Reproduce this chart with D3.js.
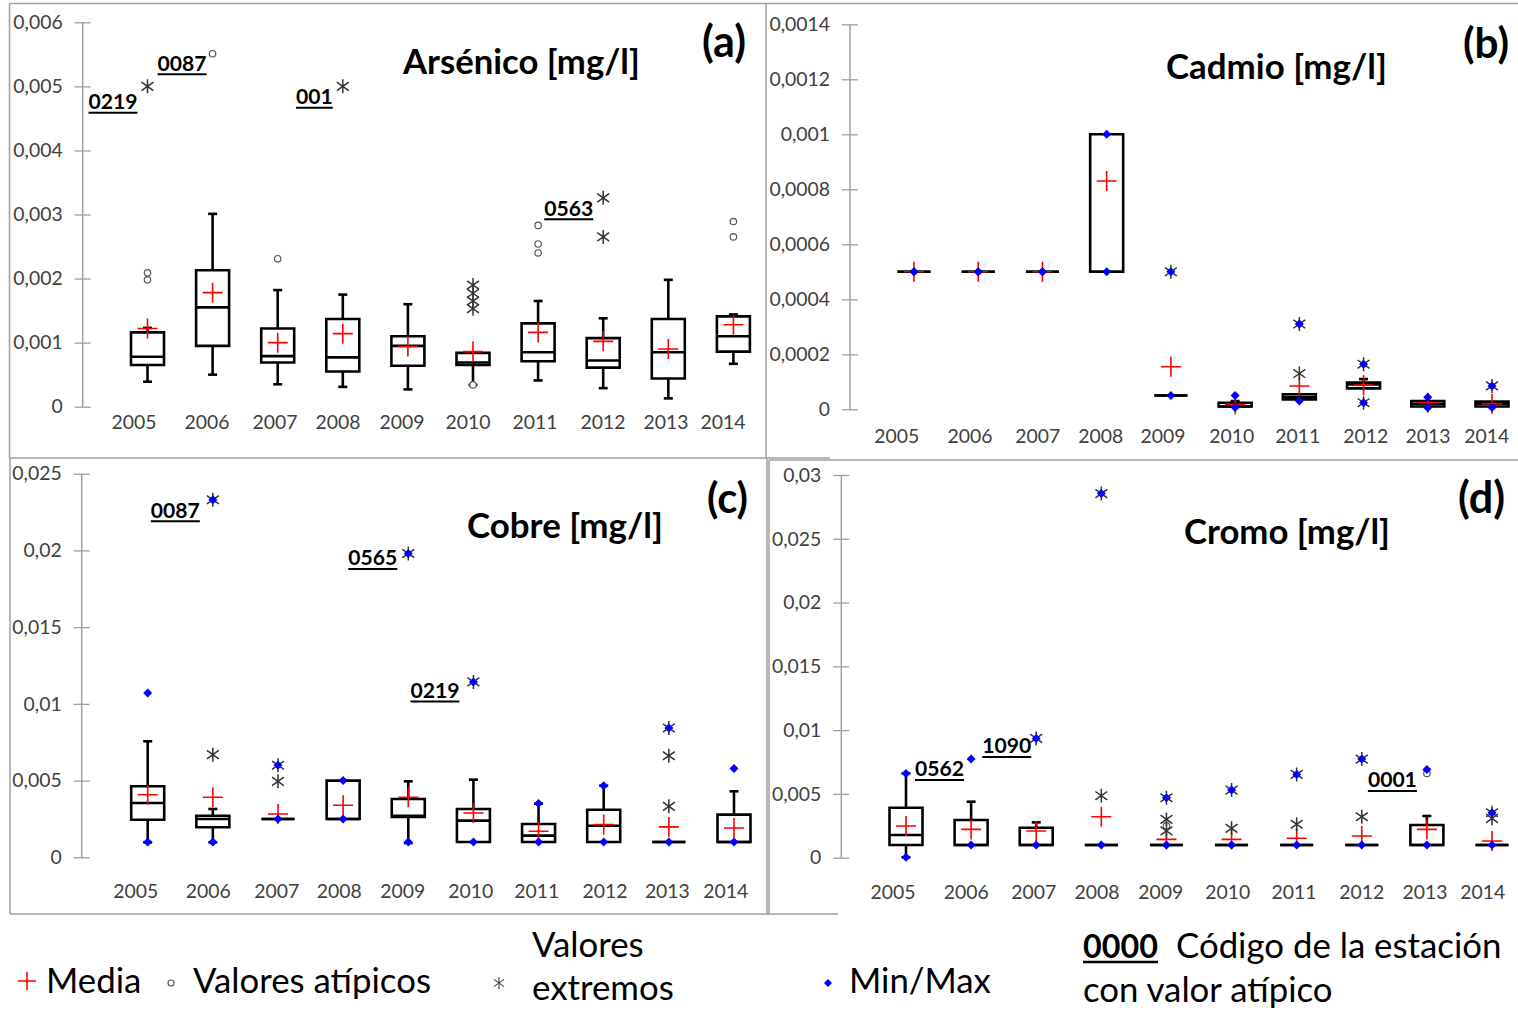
<!DOCTYPE html>
<html><head><meta charset="utf-8">
<script src="https://cdn.jsdelivr.net/npm/d3@7"></script>
<style>body{margin:0;background:#fff} svg{display:block}</style>
</head><body>
<svg id="c" width="1518" height="1010"></svg>
<script>
// ---------------- DATA ----------------
const years = ["2005","2006","2007","2008","2009","2010","2011","2012","2013","2014"];

// (a) Arsénico
const asTicks = [0,0.001,0.002,0.003,0.004,0.005,0.006];
const asLow  = [0.00039,0.00050,0.00035,0.00031,0.00027,0.00034,0.00041,0.00029,0.00013,0.00067];
const asQ1   = [0.00065,0.00095,0.00069,0.00055,0.00064,0.00065,0.00071,0.00061,0.00044,0.00086];
const asMed  = [0.00078,0.00155,0.00079,0.00077,0.00095,0.00069,0.00085,0.00072,0.00085,0.00110];
const asQ3   = [0.00116,0.00213,0.00122,0.00137,0.00110,0.00084,0.00130,0.00107,0.00137,0.00141];
const asHigh = [0.00123,0.00301,0.00182,0.00175,0.00160,0.00084,0.00165,0.00138,0.00198,0.00144];
const asMean = [0.00122,0.00178,0.00100,0.00114,0.00094,0.00086,0.00116,0.00102,0.00090,0.00128];
const asOut  = [[0.00198,0.00209],[0.00551],[0.00231],[],[],[0.00034],[0.00283,0.00254,0.00240],[],[],[0.00289,0.00265]];
const asExt  = [[0.005],[],[],[0.005],[],[0.00190,0.00177,0.00165,0.00153],[],[0.00326,0.00265],[],[]];
const asMin  = [];
const asMax  = [];
const asCodes = ["0219","0087","001","0563"];
const asCodeYear = ["2005","2006","2008","2012"];
const asCodeVal = [0.005,0.00551,0.005,0.00326];

// (b) Cadmio
const cdTicks = [0,0.0002,0.0004,0.0006,0.0008,0.001,0.0012,0.0014];
const cdLow  = [0.0005,0.0005,0.0005,0.0005,0.00005,0.00001,0.000036,0.000076,0.00001,0.00001];
const cdQ1   = [0.0005,0.0005,0.0005,0.0005,0.00005,0.00001,0.000036,0.000076,0.00001,0.00001];
const cdMed  = [0.0005,0.0005,0.0005,0.0005,0.00005,0.00001,0.000045,0.00009,0.00002,0.00002];
const cdQ3   = [0.0005,0.0005,0.0005,0.001,0.00005,0.000024,0.000055,0.000097,0.00003,0.000028];
const cdHigh = [0.0005,0.0005,0.0005,0.001,0.00005,0.00003,0.000055,0.00011,0.00003,0.000028];
const cdMean = [0.0005,0.0005,0.0005,0.00083,0.000155,0.000018,0.000085,0.000088,0.000024,0.00002];
const cdOut  = [[],[],[],[],[],[],[],[],[],[]];
const cdExt  = [[],[],[],[],[0.0005],[],[0.00013,0.00031],[0.000164,0.000024],[],[0.000085]];
const cdMin  = [0.0005,0.0005,0.0005,0.0005,0.00005,0.000007,0.00003,0.000024,0.000006,0.000007];
const cdMax  = [0.0005,0.0005,0.0005,0.001,0.0005,0.00005,0.00031,0.000164,0.000044,0.000085];
const cdCodes = [];
const cdCodeYear = [];
const cdCodeVal = [];

// (c) Cobre
const cuTicks = [0,0.005,0.01,0.015,0.02,0.025];
const cuLow  = [0.00098,0.00098,0.0025,0.0025,0.00093,0.001,0.001,0.001,0.001,0.001];
const cuQ1   = [0.00245,0.00196,0.0025,0.0025,0.00263,0.001,0.001,0.001,0.001,0.001];
const cuMed  = [0.00354,0.0025,0.0025,0.0025,0.00271,0.00239,0.00141,0.00206,0.001,0.001];
const cuQ3   = [0.00463,0.00271,0.0025,0.005,0.0038,0.00315,0.00217,0.0031,0.001,0.00278];
const cuHigh = [0.00756,0.00315,0.0025,0.005,0.00495,0.00506,0.0035,0.00467,0.001,0.0043];
const cuMean = [0.00408,0.00391,0.00282,0.00339,0.00391,0.00289,0.0017,0.00213,0.00198,0.00191];
const cuOut  = [[],[],[],[],[],[],[],[],[],[]];
const cuExt  = [[],[0.00669,0.0233],[0.00495,0.006],[],[0.0198],[0.01143],[],[],[0.00332,0.00662,0.00843],[]];
const cuMin  = [0.001,0.001,0.0025,0.0025,0.001,0.001,0.001,0.001,0.001,0.001];
const cuMax  = [0.0107,0.0233,0.006,0.005,0.0198,0.01143,0.0035,0.00467,0.00843,0.00578];
const cuCodes = ["0087","0565","0219"];
const cuCodeYear = ["2006","2009","2010"];
const cuCodeVal = [0.0233,0.0198,0.01143];

// (d) Cromo
const crTicks = [0,0.005,0.01,0.015,0.02,0.025,0.03];
const crLow  = [0.00003,0.001,0.001,0.001,0.001,0.001,0.001,0.001,0.001,0.001];
const crQ1   = [0.001,0.001,0.001,0.001,0.001,0.001,0.001,0.001,0.001,0.001];
const crMed  = [0.00178,0.001,0.001,0.001,0.001,0.001,0.001,0.001,0.001,0.001];
const crQ3   = [0.00392,0.00295,0.00235,0.001,0.001,0.001,0.001,0.001,0.00256,0.001];
const crHigh = [0.00661,0.00439,0.00277,0.001,0.001,0.001,0.001,0.001,0.00327,0.001];
const crMean = [0.00248,0.00222,0.00209,0.00321,0.00144,0.00144,0.00152,0.0017,0.00222,0.00131];
const crOut  = [[],[],[],[],[0.0025],[],[],[],[0.00661],[]];
const crExt  = [[],[],[0.00935],[0.00486,0.02854],[0.0021,0.003,0.0047],[0.0023,0.0053],[0.00262,0.00653],[0.00321,0.00773],[],[0.00308,0.00352]];
const crMin  = [0.00003,0.001,0.001,0.001,0.001,0.001,0.001,0.001,0.001,0.001];
const crMax  = [0.00661,0.00773,0.00935,0.02854,0.0047,0.0053,0.00653,0.00773,0.00692,0.00352];
const crCodes = ["0562","1090","0001"];
const crCodeYear = ["2005","2007","2013"];
const crCodeVal = [0.00661,0.00935,0.00692];

// ---------------- LAYOUT ----------------
const panels = [
  {title:"Arsénico [mg/l]", tag:"(a)", ticks:asTicks, low:asLow, q1:asQ1, med:asMed, q3:asQ3, high:asHigh, mean:asMean,
   out:asOut, ext:asExt, min:asMin, max:asMax, codes:asCodes, codeYear:asCodeYear, codeVal:asCodeVal,
   xr:[147.5,733.4], yr:[406.7,22.3], axisX:82.7, yearY:429,
   yearDx:[-13.5,-5.6,-2.7,-4.8,-5.9,-5,-3.1,-0.2,-2.3,-10.4],
   titleX:403, titleY:74, titleW:237, tagX:702, tagY:57, tagW:44,
   codeOff:[[-10,23,"end"],[-6,17,"end"],[-10,18,"end"],[-10,18,"end"]]},
  {title:"Cadmio [mg/l]", tag:"(b)", ticks:cdTicks, low:cdLow, q1:cdQ1, med:cdMed, q3:cdQ3, high:cdHigh, mean:cdMean,
   out:cdOut, ext:cdExt, min:cdMin, max:cdMax, codes:cdCodes, codeYear:cdCodeYear, codeVal:cdCodeVal,
   xr:[914,1492], yr:[409.3,24.3], axisX:850, yearY:443,
   yearDx:[-17.3,-8.2,-4.7,-6,-7.9,-3.4,-1.6,2.1,0.2,-5.3],
   titleX:1166, titleY:79, titleW:221, tagX:1463, tagY:58, tagW:46, codeOff:[]},
  {title:"Cobre [mg/l]", tag:"(c)", ticks:cuTicks, low:cuLow, q1:cuQ1, med:cuMed, q3:cuQ3, high:cuHigh, mean:cuMean,
   out:cuOut, ext:cuExt, min:cuMin, max:cuMax, codes:cuCodes, codeYear:cuCodeYear, codeVal:cuCodeVal,
   xr:[147.7,734], yr:[857.3,473.7], axisX:81.7, yearY:898,
   yearDx:[-12,-4.5,-1.3,-3.8,-5.6,-2.7,-1.8,1.3,-1.5,-8.3],
   titleX:467, titleY:538, titleW:196, tagX:707, tagY:513, tagW:41,
   codeOff:[[-13,18,"end"],[-11,12,"end"],[-14,16,"end"]]},
  {title:"Cromo [mg/l]", tag:"(d)", ticks:crTicks, low:crLow, q1:crQ1, med:crMed, q3:crQ3, high:crHigh, mean:crMean,
   out:crOut, ext:crExt, min:crMin, max:crMax, codes:crCodes, codeYear:crCodeYear, codeVal:crCodeVal,
   xr:[906,1492], yr:[857.7,475], axisX:841.3, yearY:899,
   yearDx:[-13,-4.8,-2.5,-4.3,-5.7,-3.9,-2.7,-0.1,-1.9,-9.3],
   titleX:1184, titleY:544, titleW:206, tagX:1458, tagY:513, tagW:47,
   codeOff:[[9,3,"start"],[-5,15,"end"],[-10,18,"end"]]}
];

// ---------------- DRAW ----------------
const svg = d3.select("#c");
const FONT = "Lato, 'Open Sans', 'DejaVu Sans', sans-serif";
const fmt = d3.formatLocale({decimal:",", thousands:".", grouping:[3], currency:["",""]}).format(".4~f");

function fitSize(text, weight, targetW) {
  const t = svg.append("text").attr("font-family", FONT).attr("font-weight", weight)
    .attr("font-size", 100).text(text);
  const w = t.node().getComputedTextLength(); t.remove();
  return 100 * targetW / w;
}
const tickFS = fitSize("2005", "normal", 45);
const codeFS = fitSize("0000", "bold", 49);
const GRAY = "#a0a0a0";

// frames
const frames = [
  [9.5,3.5,766,3.5],[9.5,3.5,9.5,458],[766,3.5,766,458],[9.5,458,830,458],
  [766,3.5,1518,3.5],
  [10,458,10,914],[767,458,767,914],[10,914,838,914],
  [769,460,1518,460],[769,460,769,914]
];
svg.append("g").selectAll("line").data(frames).join("line")
  .attr("x1", d => d[0]).attr("y1", d => d[1]).attr("x2", d => d[2]).attr("y2", d => d[3])
  .attr("stroke", GRAY).attr("stroke-width", 1.5);

function star(g, cx, cy, s, color, w) {
  g.append("path")
    .attr("d", `M${cx},${cy-s}V${cy+s}M${cx-s*0.85},${cy-s*0.6}L${cx+s*0.85},${cy+s*0.6}M${cx-s*0.85},${cy+s*0.6}L${cx+s*0.85},${cy-s*0.6}`)
    .attr("stroke", color).attr("stroke-width", w).attr("fill", "none");
}
function diamond(g, cx, cy, r) {
  g.append("path").attr("d", `M${cx},${cy-r}L${cx+r},${cy}L${cx},${cy+r}L${cx-r},${cy}Z`).attr("fill", "#0000ff");
}
function cross(g, cx, cy, r) {
  g.append("path").attr("d", `M${cx-r},${cy}H${cx+r}M${cx},${cy-r}V${cy+r}`)
    .attr("stroke", "#ff0000").attr("stroke-width", 1.6).attr("fill", "none");
}

panels.forEach(p => {
  const x = d3.scalePoint().domain(years).range(p.xr);
  const y = d3.scaleLinear().domain([0, p.ticks[p.ticks.length - 1]]).range(p.yr);
  const g = svg.append("g");

  // axis
  const ax = g.append("g").attr("transform", `translate(${p.axisX},0)`)
    .call(d3.axisLeft(y).tickValues(p.ticks).tickFormat(fmt).tickSize(8).tickPadding(12));
  ax.select(".domain").remove();
  ax.selectAll(".tick line").attr("x1", 8).attr("stroke", GRAY).attr("stroke-width", 1.3);
  ax.append("line").attr("x1", 0).attr("x2", 0).attr("y1", y(p.ticks[p.ticks.length-1])).attr("y2", y(0))
    .attr("stroke", GRAY).attr("stroke-width", 1.5);
  ax.selectAll(".tick text").attr("font-family", FONT).attr("font-size", tickFS).attr("fill", "#404040");

  // year labels
  g.append("g").selectAll("text").data(years).join("text")
    .attr("x", (d, i) => x(d) + p.yearDx[i]).attr("y", p.yearY).attr("text-anchor", "middle")
    .attr("font-family", FONT).attr("font-size", tickFS).attr("fill", "#404040").text(d => d);

  // title + tag
  g.append("text").attr("x", p.titleX).attr("y", p.titleY).attr("font-family", FONT).attr("font-weight", "bold")
    .attr("font-size", fitSize(p.title, "bold", p.titleW)).attr("fill", "#000").text(p.title);
  g.append("text").attr("x", p.tagX).attr("y", p.tagY).attr("font-family", FONT).attr("font-weight", "bold")
    .attr("font-size", fitSize(p.tag, "bold", p.tagW)).attr("fill", "#000").text(p.tag);

  const bw = 33, cap = 4.5;
  const boxes = g.append("g").attr("stroke", "#000").attr("stroke-width", 2.6).attr("fill", "none");
  years.forEach((yr, i) => {
    const cx = x(yr);
    if (p.high[i] > p.q3[i]) {
      boxes.append("line").attr("x1", cx).attr("x2", cx).attr("y1", y(p.q3[i])).attr("y2", y(p.high[i]));
      boxes.append("line").attr("x1", cx - cap).attr("x2", cx + cap).attr("y1", y(p.high[i])).attr("y2", y(p.high[i]));
    }
    if (p.low[i] < p.q1[i]) {
      boxes.append("line").attr("x1", cx).attr("x2", cx).attr("y1", y(p.q1[i])).attr("y2", y(p.low[i]));
      boxes.append("line").attr("x1", cx - cap).attr("x2", cx + cap).attr("y1", y(p.low[i])).attr("y2", y(p.low[i]));
    }
    boxes.append("path").attr("d", `M${cx-bw/2},${y(p.q1[i])}H${cx+bw/2}V${y(p.q3[i])}H${cx-bw/2}Z`);
    boxes.append("line").attr("x1", cx - bw/2).attr("x2", cx + bw/2).attr("y1", y(p.med[i])).attr("y2", y(p.med[i]));
  });

  const marks = g.append("g");
  years.forEach((yr, i) => {
    const cx = x(yr);
    cross(marks, cx, y(p.mean[i]), 10);
    p.out[i].forEach(v => {
      marks.append("circle").attr("cx", cx).attr("cy", y(v)).attr("r", 3.2)
        .attr("fill", "#fff").attr("stroke", "#555").attr("stroke-width", 1.2);
    });
    p.ext[i].forEach(v => star(marks, cx, y(v), 7, "#333", 1.5));
  });
  years.forEach((yr, i) => {
    const cx = x(yr);
    if (p.min.length) diamond(marks, cx, y(p.min[i]), 4.5);
    if (p.max.length) diamond(marks, cx, y(p.max[i]), 4.5);
  });

  // station code labels
  p.codes.forEach((c, k) => {
    const [dx, dy, anchor] = p.codeOff[k];
    const px = x(p.codeYear[k]) + dx, py = y(p.codeVal[k]) + dy;
    const t = g.append("text").attr("x", px).attr("y", py).attr("text-anchor", anchor)
      .attr("font-family", FONT).attr("font-weight", "bold").attr("font-size", codeFS).attr("fill", "#000").text(c);
    const w = t.node().getComputedTextLength();
    const x0 = anchor === "end" ? px - w : px;
    g.append("line").attr("x1", x0).attr("x2", x0 + w).attr("y1", py + 3.5).attr("y2", py + 3.5)
      .attr("stroke", "#000").attr("stroke-width", 2);
  });
});

// ---------------- LEGEND ----------------
const lg = svg.append("g");
const legFS = fitSize("Valores atípicos", "normal", 238);
function ltext(x, y, s, bold) {
  return lg.append("text").attr("x", x).attr("y", y).attr("font-family", FONT)
    .attr("font-weight", bold ? "bold" : "normal").attr("font-size", bold ? fitSize(s, "bold", 75) : legFS)
    .attr("fill", "#000").text(s);
}
cross(lg, 27, 981, 9);
ltext(46, 993, "Media");
lg.append("circle").attr("cx", 171).attr("cy", 983).attr("r", 3).attr("fill", "#fff").attr("stroke", "#555").attr("stroke-width", 1.1);
ltext(193, 993, "Valores atípicos");
star(lg, 499, 983, 6, "#404040", 1.1);
ltext(532, 957, "Valores");
ltext(532, 1000, "extremos");
diamond(lg, 828, 983, 4);
ltext(849, 993, "Min/Max");
ltext(1083, 958, "0000", true);
lg.append("line").attr("x1", 1083).attr("x2", 1158).attr("y1", 962).attr("y2", 962).attr("stroke", "#000").attr("stroke-width", 2.5);
ltext(1176, 958, "Código de la estación");
ltext(1083, 1002, "con valor atípico");
</script>
</body></html>
